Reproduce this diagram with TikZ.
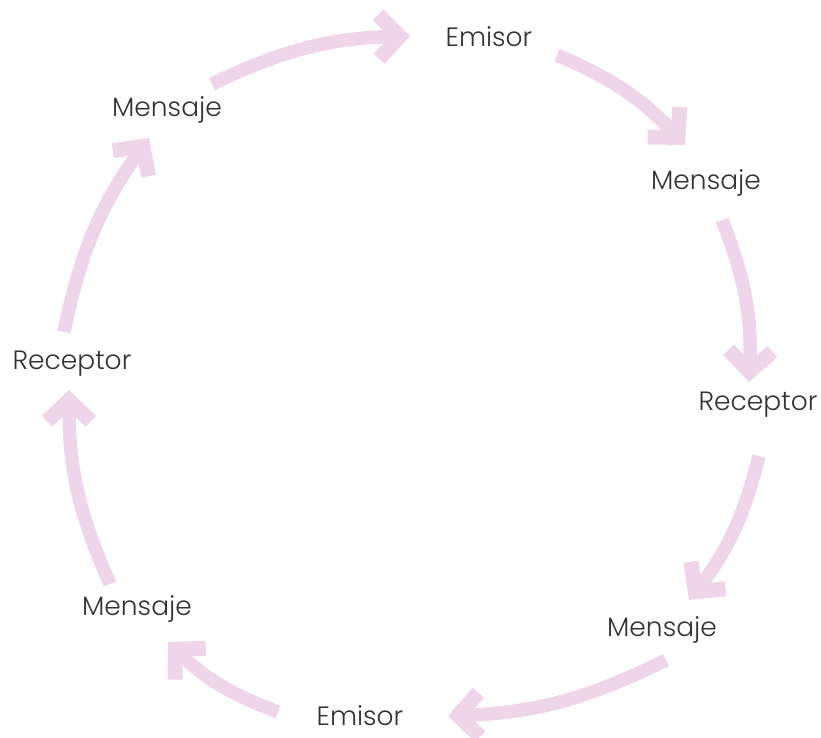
\documentclass[tikz,border=0pt]{standalone}
\usepackage{fontspec}
\setmainfont{Poppins Light}
\usetikzlibrary{arrows.meta}
\definecolor{arrowpink}{HTML}{EFD5EA}
\definecolor{txt}{HTML}{333333}
\tikzset{
  lbl/.style={text=txt, font=\fontsize{26.5}{30}\selectfont, inner sep=0pt},
  flow/.style={draw=arrowpink, line width=13.5pt, bend left=12,
    -{Straight Barb[length=21pt,width=44pt,line width=15pt]}}
}
\begin{document}
\begin{tikzpicture}[x=1pt,y=-1pt]
\useasboundingbox (0,0) rectangle (821,738);
\node[lbl] (e1) at (489,37) {Emisor};
\node[lbl] (m1) at (706,183) {Mensaje};
\node[lbl] (r1) at (758,405) {Receptor};
\node[lbl] (m2) at (662,630) {Mensaje};
\node[lbl] (e2) at (360,716) {Emisor};
\node[lbl] (m3) at (137,609) {Mensaje};
\node[lbl] (r2) at (72,364) {Receptor};
\node[lbl] (m4) at (167,110) {Mensaje};
\coordinate (a1s) at (212,84);  \coordinate (a1t) at (410,36);
\coordinate (a2s) at (557,55);  \coordinate (a2t) at (685,145);
\coordinate (a3s) at (722,220); \coordinate (a3t) at (749,382);
\coordinate (a4s) at (759,456); \coordinate (a4t) at (689,600);
\coordinate (a5s) at (666,660); \coordinate (a5t) at (448,716);
\coordinate (a6s) at (278,712); \coordinate (a6t) at (168,642);
\coordinate (a7s) at (110,584); \coordinate (a7t) at (69,390);
\coordinate (a8s) at (64,332);  \coordinate (a8t) at (149,138);
\draw[flow] (a1s) to (a1t);
\draw[flow] (a2s) to (a2t);
\draw[flow] (a3s) to (a3t);
\draw[flow] (a4s) to (a4t);
\draw[flow] (a5s) to (a5t);
\draw[flow] (a6s) to (a6t);
\draw[flow] (a7s) to (a7t);
\draw[flow] (a8s) to (a8t);
\end{tikzpicture}
\end{document}
